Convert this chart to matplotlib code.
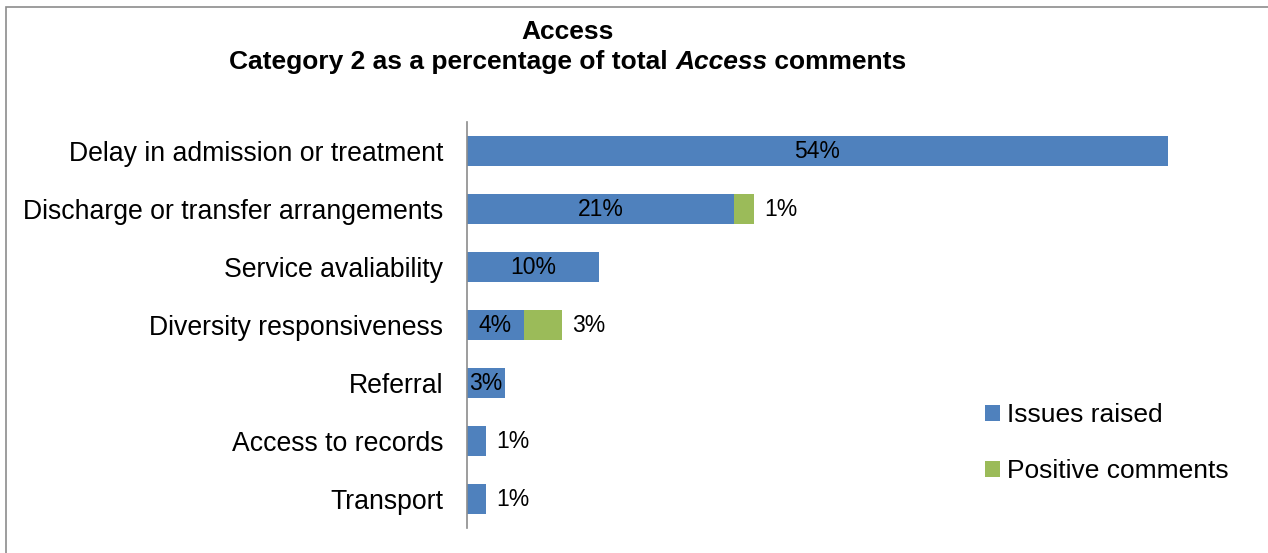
import matplotlib.pyplot as plt
from matplotlib.patches import Rectangle

plt.rcParams['font.family'] = ['Liberation Sans', 'DejaVu Sans']

categories = [
    "Delay in admission or treatment",
    "Discharge or transfer arrangements",
    "Service avaliability",
    "Diversity responsiveness",
    "Referral",
    "Access to records",
    "Transport",
]
issues = [54.0, 20.6, 10.2, 4.4, 2.9, 1.45, 1.45]
positive = [0, 1.49, 0, 2.9, 0, 0, 0]
series_names = ["Issues raised", "Positive comments"]

BLUE = "#4F81BD"
GREEN = "#9BBB59"

W, H = 1268, 553
fig = plt.figure(figsize=(W / 100, H / 100), dpi=100)

# outer chart frame (cut off at right/bottom like the source)
fig.patches.append(Rectangle((6 / W, -0.1), 2, 1.1 - 7 / H, transform=fig.transFigure,
                             fill=False, edgecolor="#8c8c8c", linewidth=1.2))

px = 701 / 54.0
ax_left, ax_top, ax_bot = 467, 122, 528
xmax = 60
ax = fig.add_axes([ax_left / W, 1 - ax_bot / H, xmax * px / W, (ax_bot - ax_top) / H])

y = list(range(len(categories)))
ax.barh(y, issues, height=0.52, color=BLUE, edgecolor="none", label=series_names[0])
ax.barh(y, positive, left=issues, height=0.52, color=GREEN, edgecolor="none",
        label=series_names[1])

ax.set_xlim(0, xmax)
ax.set_ylim(len(categories) - 0.5, -0.5)
ax.set_yticks(y)
ax.set_yticklabels(categories, fontsize=19.2)
ax.tick_params(axis="y", length=0, pad=17)
ax.set_xticks([])
for s in ["top", "right", "bottom"]:
    ax.spines[s].set_visible(False)
ax.spines["left"].set_color("#8c8c8c")
ax.spines["left"].set_linewidth(1.2)

pad = 10 / px
for i, (v, p) in enumerate(zip(issues, positive)):
    if v >= 2.5:
        ax.text(v / 2, i, f"{v:.0f}%", ha="center", va="center", fontsize=16.5)
    else:
        ax.text(v + pad, i, f"{v:.0f}%", ha="left", va="center", fontsize=16.5)
    if p > 0:
        ax.text(v + p + pad, i, f"{p:.0f}%", ha="left", va="center", fontsize=16.5)

fig.legend(loc="upper left", bbox_to_anchor=(985 / W, 1 - 403 / H), frameon=False,
           fontsize=19, handlelength=0.55, handleheight=0.55, handletextpad=0.3,
           labelspacing=1.22, borderpad=0, borderaxespad=0)

# title with an italic word in the second line
cx = 568 / W
fig.text(cx, 1 - 32 / H, "Access", ha="center", va="center", fontsize=19,
         fontweight="bold")
parts = [("Category 2 as a percentage of total ", "normal"),
         ("Access", "italic"),
         (" comments", "normal")]
ty = 1 - 62 / H
texts = [fig.text(0, ty, s, ha="left", va="center", fontsize=19, fontweight="bold",
                  fontstyle=st) for s, st in parts]
r = fig.canvas.get_renderer()
widths = [t.get_window_extent(r).width for t in texts]
x0 = cx * W - sum(widths) / 2
for t, w in zip(texts, widths):
    t.set_x(x0 / W)
    x0 += w

fig.savefig("out.png", dpi=100)
